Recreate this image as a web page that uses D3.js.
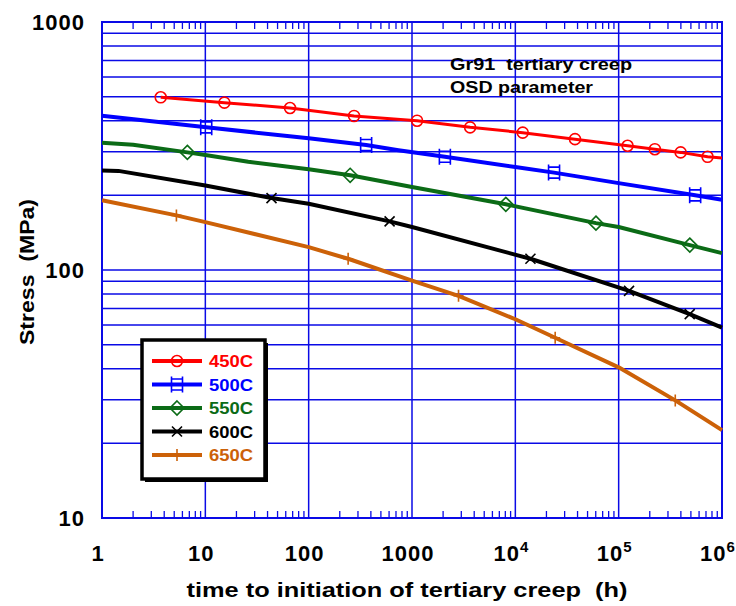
<!DOCTYPE html>
<html>
<head>
<meta charset="utf-8">
<script src="https://cdn.jsdelivr.net/npm/d3@7"></script>
<style>
body { margin: 0; background: #fff; }
text { font-family: "Liberation Sans", Arial, sans-serif; font-weight: bold; white-space: pre; }
</style>
</head>
<body>
<svg id="chart" width="736" height="606"></svg>
<script>
// series (time in h, stress in MPa)
var labels = ["450C", "500C", "550C", "600C", "650C"];

var t450 = [3.7, 15.3, 66, 275, 1120, 3650, 11800, 37800, 122000, 224000, 398000, 725000, 1e6];
var s450 = [497, 473, 450, 418, 400, 376, 358, 337, 317, 307, 298, 286, 283];
var m450 = [0, 1, 2, 3, 4, 5, 6, 7, 8, 9, 10, 11];

var t500 = [1, 10.2, 100, 360, 740, 2080, 10000, 23700, 100000, 550000, 1e6];
var s500 = [419, 376, 340, 319, 304, 286, 260, 247, 224, 200, 192];
var m500 = [1, 3, 5, 7, 9];

var t550 = [1, 2, 6.7, 10, 26, 100, 252, 1000, 8090, 60300, 100000, 488000, 1e6];
var s550 = [326, 320, 298, 291, 273, 255, 241, 216, 184, 154.5, 149, 126, 117];
var m550 = [2, 6, 8, 9, 11];

var t600 = [1, 1.44, 10, 43.7, 100, 607, 1000, 14000, 126000, 487000, 1e6];
var s600 = [252, 251, 219, 195, 185, 157, 149, 111, 82.4, 66.4, 58.6];
var m600 = [3, 5, 7, 8, 9];

var t650 = [1, 5.25, 10, 100, 241, 1000, 2820, 10000, 24300, 100000, 353000, 1e6];
var s650 = [191, 166, 156, 123.6, 111, 90.6, 78.7, 63.3, 53.3, 40.5, 29.8, 22.6];
var m650 = [1, 4, 6, 8, 10];

var xTicks = [1, 10, 100, 1000, 1e4, 1e5, 1e6];
var yTicks = [10, 100, 1000];

// styles
var colors = ["#ff0000", "#0000ff", "#0b6b16", "#000000", "#cc6108"];
var widths = [3, 4, 4, 4, 4];
var shapes = ["circle", "square", "diamond", "cross", "plus"];
var gridColor = "#0a0ae6";

var svg = d3.select("#chart");
var plotL = 102, plotR = 722, plotT = 22, plotB = 518;

var x = d3.scaleLog().domain([1, 1e6]).range([plotL, plotR]);
var y = d3.scaleLog().domain([10, 1000]).range([plotB, plotT]);

var grid = svg.append("g");

// horizontal grid at every 1..9 of a decade
var hVals = [];
[10, 100].forEach(function(d){
	for (var k = 1; k <= 9; k++) hVals.push(k * d);
});
hVals.push(1000);
grid.selectAll("line.h").data(hVals).enter().append("line")
	.attr("x1", plotL).attr("x2", plotR)
	.attr("y1", function(d){ return y(d); })
	.attr("y2", function(d){ return y(d); })
	.attr("stroke", gridColor).attr("stroke-width", 1.5);

grid.selectAll("line.v").data(xTicks).enter().append("line")
	.attr("x1", function(d){ return x(d); })
	.attr("x2", function(d){ return x(d); })
	.attr("y1", plotT).attr("y2", plotB)
	.attr("stroke", gridColor).attr("stroke-width", 1.5);

// minor ticks top and bottom
var minor = [];
[1, 10, 100, 1000, 1e4, 1e5].forEach(function(d){
	for (var k = 2; k <= 9; k++) minor.push(k * d);
});
grid.selectAll("line.mb").data(minor).enter().append("line")
	.attr("x1", function(d){ return x(d); }).attr("x2", function(d){ return x(d); })
	.attr("y1", plotB).attr("y2", plotB - 7)
	.attr("stroke", gridColor).attr("stroke-width", 1.3);
grid.selectAll("line.mt").data(minor).enter().append("line")
	.attr("x1", function(d){ return x(d); }).attr("x2", function(d){ return x(d); })
	.attr("y1", plotT).attr("y2", plotT + 7)
	.attr("stroke", gridColor).attr("stroke-width", 1.3);

grid.append("rect")
	.attr("x", plotL).attr("y", plotT)
	.attr("width", plotR - plotL).attr("height", plotB - plotT)
	.attr("fill", "none").attr("stroke", gridColor).attr("stroke-width", 2);

// markers
function marker(g, shape, cx, cy, color){
	var m;
	if (shape === "circle") {
		m = g.append("circle").attr("cx", cx).attr("cy", cy).attr("r", 5.5);
	} else if (shape === "square") {
		m = g.append("path").attr("d", "M" + (cx - 5.5) + "," + (cy - 5.5) + "h11v11h-11z" +
			"M" + (cx - 5.5) + "," + (cy - 8) + "v16M" + (cx + 5.5) + "," + (cy - 8) + "v16");
	} else if (shape === "diamond") {
		m = g.append("path").attr("d", "M" + cx + "," + (cy - 7) + "l7,7l-7,7l-7,-7z");
	} else if (shape === "cross") {
		m = g.append("path").attr("d", "M" + (cx - 5) + "," + (cy - 5) + "l10,10M" + (cx + 5) + "," + (cy - 5) + "l-10,10");
	} else {
		m = g.append("path").attr("d", "M" + cx + "," + (cy - 6) + "v12M" + (cx - 5) + "," + cy + "h10");
	}
	m.attr("fill", "none").attr("stroke", color).attr("stroke-width", 1.6);
}

var allT = [t450, t500, t550, t600, t650];
var allS = [s450, s500, s550, s600, s650];
var allM = [m450, m500, m550, m600, m650];

var line = d3.line()
	.x(function(d){ return x(d[0]); })
	.y(function(d){ return y(d[1]); });

var plot = svg.append("g");
for (var i = 0; i < labels.length; i++) {
	var pts = d3.zip(allT[i], allS[i]);
	plot.append("path")
		.attr("d", line(pts))
		.attr("fill", "none")
		.attr("stroke", colors[i])
		.attr("stroke-width", widths[i])
		.attr("stroke-linejoin", "round");
	allM[i].forEach(function(j){
		marker(plot, shapes[i], x(pts[j][0]), y(pts[j][1]), colors[i]);
	});
}

// tick labels
var xl = svg.append("g");
xTicks.forEach(function(d){
	var e = Math.round(Math.log10(d));
	var t = xl.append("text")
		.attr("x", x(d) - 4).attr("y", 561)
		.attr("text-anchor", "middle")
		.attr("font-size", 22)
		.attr("letter-spacing", 1);
	if (e < 4) {
		t.text(String(d));
	} else {
		t.append("tspan").text("10");
		t.append("tspan").attr("font-size", 15).attr("dy", -9).text(String(e));
	}
});

yTicks.forEach(function(d){
	svg.append("text")
		.attr("x", 85).attr("y", y(d) + 8)
		.attr("text-anchor", "end")
		.attr("font-size", 22)
		.attr("letter-spacing", 1)
		.text(String(d));
});

svg.append("text")
	.attr("x", 407).attr("y", 597)
	.attr("text-anchor", "middle")
	.attr("font-size", 20)
	.attr("textLength", 441).attr("lengthAdjust", "spacingAndGlyphs")
	.text("time to initiation of tertiary creep  (h)");

svg.append("text")
	.attr("transform", "translate(34,272) rotate(-90)")
	.attr("text-anchor", "middle")
	.attr("font-size", 20)
	.attr("textLength", 146).attr("lengthAdjust", "spacingAndGlyphs")
	.text("Stress  (MPa)");

svg.append("text")
	.attr("x", 450).attr("y", 70)
	.attr("font-size", 16)
	.attr("textLength", 182).attr("lengthAdjust", "spacingAndGlyphs")
	.text("Gr91  tertiary creep");
svg.append("text")
	.attr("x", 450).attr("y", 93)
	.attr("font-size", 16)
	.attr("textLength", 143).attr("lengthAdjust", "spacingAndGlyphs")
	.text("OSD parameter");

// legend
var lg = svg.append("g");
lg.append("rect").attr("x", 145).attr("y", 343).attr("width", 123).attr("height", 139).attr("fill", "#000");
lg.append("rect").attr("x", 142).attr("y", 340).attr("width", 123).attr("height", 139)
	.attr("fill", "#fff").attr("stroke", "#000").attr("stroke-width", 3.5);
labels.forEach(function(name, i){
	var ry = 361 + i * 23.5;
	lg.append("line").attr("x1", 152).attr("x2", 202).attr("y1", ry).attr("y2", ry)
		.attr("stroke", colors[i]).attr("stroke-width", 4);
	marker(lg, shapes[i], 177, ry, colors[i]);
	lg.append("text").attr("x", 209).attr("y", ry + 6)
		.attr("font-size", 17).attr("fill", colors[i])
		.attr("textLength", 44).attr("lengthAdjust", "spacingAndGlyphs")
		.text(name);
});
</script>
</body>
</html>
